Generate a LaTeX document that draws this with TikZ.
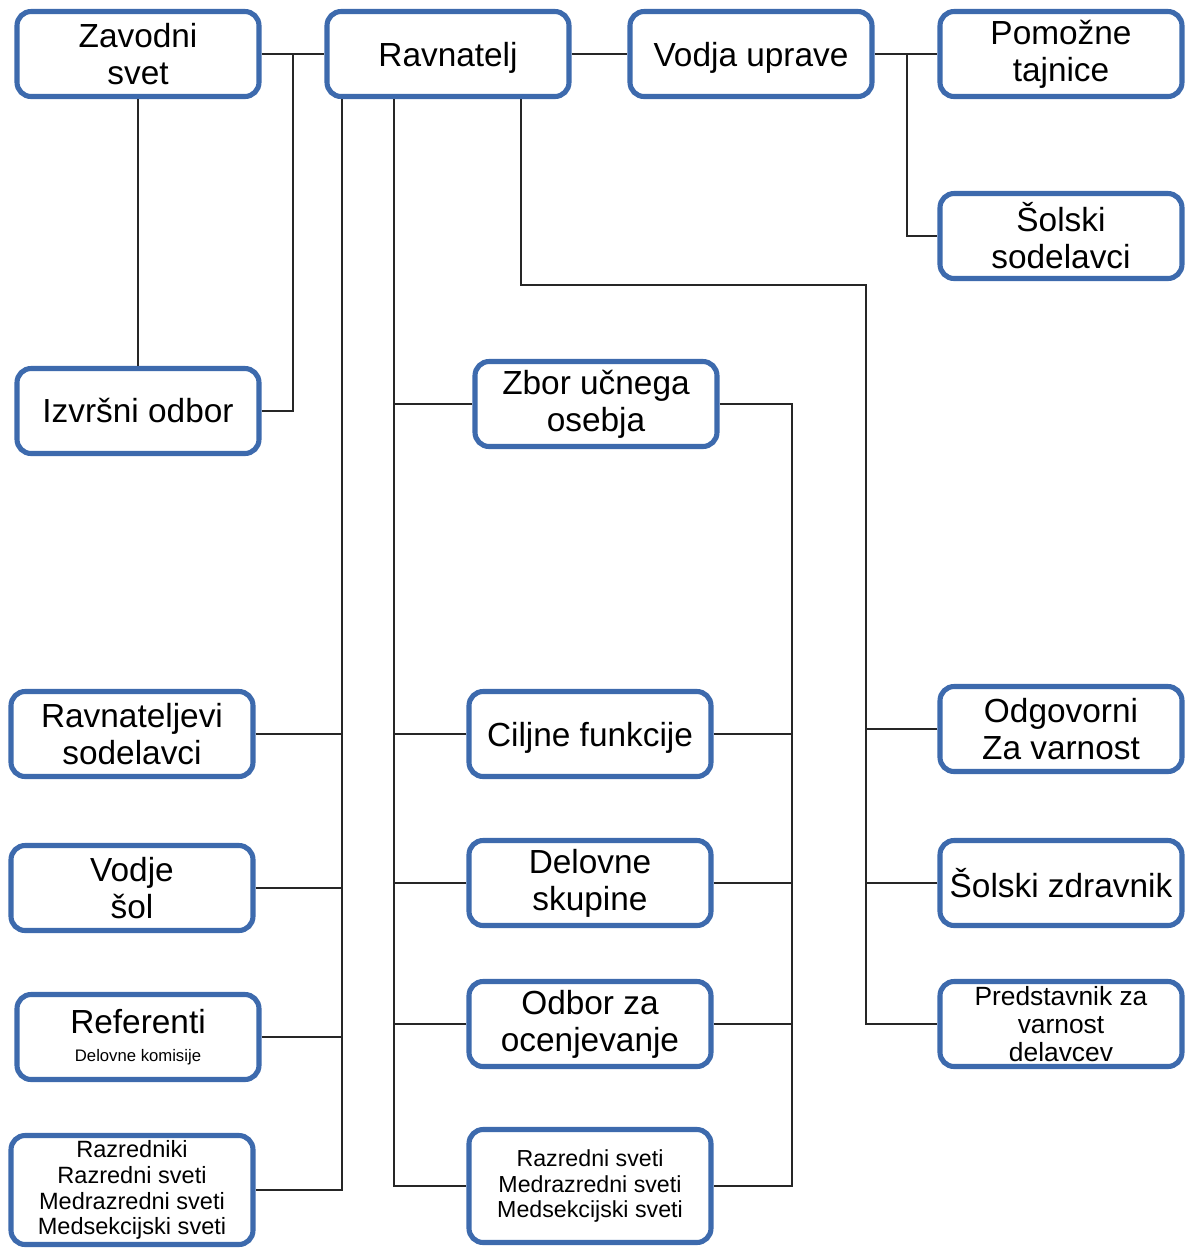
\documentclass[tikz,border=0pt]{standalone}
\usepackage{fontspec}
\setmainfont{Liberation Sans}
\definecolor{orgblue}{HTML}{3D6AAD}
\tikzset{
  orgbox/.style={draw=orgblue, line width=2.9pt, rounded corners=8pt, fill=white,
    minimum width=4.84cm, minimum height=1.7cm, align=center, inner sep=1pt,
    font=\fontsize{19}{21}\selectfont},
  link/.style={line width=0.75pt, black!85},
}
\begin{document}
\begin{tikzpicture}[x=0.02cm,y=-0.02cm]
  \useasboundingbox (0,0) rectangle (1187,1249);
  % top row
  \node[orgbox] (zavod) at (138,54) {Zavodni\\svet};
  \node[orgbox, text depth=0pt] (ravn) at (448,54) {Ravnatelj};
  \node[orgbox, text depth=0pt] (vodja) at (751,54) {Vodja uprave};
  \node[orgbox] (pomoz) at (1061,54) {Pomožne\\tajnice};
  \node[orgbox] (solsod) at (1061,236) {Šolski\\sodelavci};
  \node[orgbox] (izvrs) at (138,411) {Izvršni odbor};
  % left column
  \node[orgbox] (ravsod) at (132,734) {Ravnateljevi\\sodelavci};
  \node[orgbox] (vodje) at (132,888) {Vodje\\šol};
  \node[orgbox] (refer) at (138,1037) {Referenti\\[-5pt]{\fontsize{9.5}{10}\selectfont Delovne komisije}};
  \node[orgbox, minimum height=2.18cm, font=\fontsize{13.4}{14.7}\selectfont] (razr) at (132,1190)
    {Razredniki\\Razredni sveti\\Medrazredni sveti\\Medsekcijski sveti};
  % middle column
  \node[orgbox] (zbor) at (596,404) {Zbor učnega\\osebja};
  \node[orgbox, text depth=0pt] (cilj) at (590,734) {Ciljne funkcije};
  \node[orgbox] (delov) at (590,883) {Delovne\\skupine};
  \node[orgbox] (odbor) at (590,1024) {Odbor za\\ocenjevanje};
  \node[orgbox, minimum height=2.26cm, font=\fontsize{13.2}{14.7}\selectfont] (razsv) at (590,1186)
    {Razredni sveti\\Medrazredni sveti\\Medsekcijski sveti};
  % right column
  \node[orgbox] (odgov) at (1061,729) {Odgovorni\\Za varnost};
  \node[orgbox] (zdrav) at (1061,883) {Šolski zdravnik};
  \node[orgbox, font=\fontsize{15}{16}\selectfont] (pred) at (1061,1024) {Predstavnik za\\varnost\\delavcev};
  % junctions
  \coordinate (jz) at (293,54);
  \coordinate (jv) at (907,54);
  \coordinate (spL) at (342,1192);
  \coordinate (spM) at (394,1195);
  \coordinate (bend) at (521,285);
  \coordinate (spR) at (866,1026);
  \coordinate (sp2) at (792,1188);
  % links on top
  \draw[link] (zavod.east) -- (ravn.west);
  \draw[link] (izvrs.east) -| (jz);
  \draw[link] (zavod.south) -- (izvrs.north);
  \draw[link] (ravn.east) -- (vodja.west);
  \draw[link] (vodja.east) -- (pomoz.west);
  \draw[link] (jv) |- (solsod.west);
  % left spine
  \draw[link] (ravn.south -| spL) -- (spL |- razr.east) -- (razr.east);
  \foreach \n in {ravsod,vodje,refer}
    \draw[link] (\n.east) -- (\n.east -| spL);
  % middle spine
  \draw[link] (ravn.south -| spM) -- (spM |- razsv.west) -- (razsv.west);
  \foreach \n in {zbor,cilj,delov,odbor}
    \draw[link] (\n.west) -- (\n.west -| spM);
  \draw[link] (zbor.east) -| (razsv.east -| sp2) -- (razsv.east);
  \foreach \n in {cilj,delov,odbor}
    \draw[link] (\n.east) -- (\n.east -| sp2);
  % right spine
  \draw[link] (ravn.south -| bend) -- (bend) -| (pred.west -| spR) -- (pred.west);
  \foreach \n in {odgov,zdrav}
    \draw[link] (\n.west) -- (\n.west -| spR);
\end{tikzpicture}
\end{document}
